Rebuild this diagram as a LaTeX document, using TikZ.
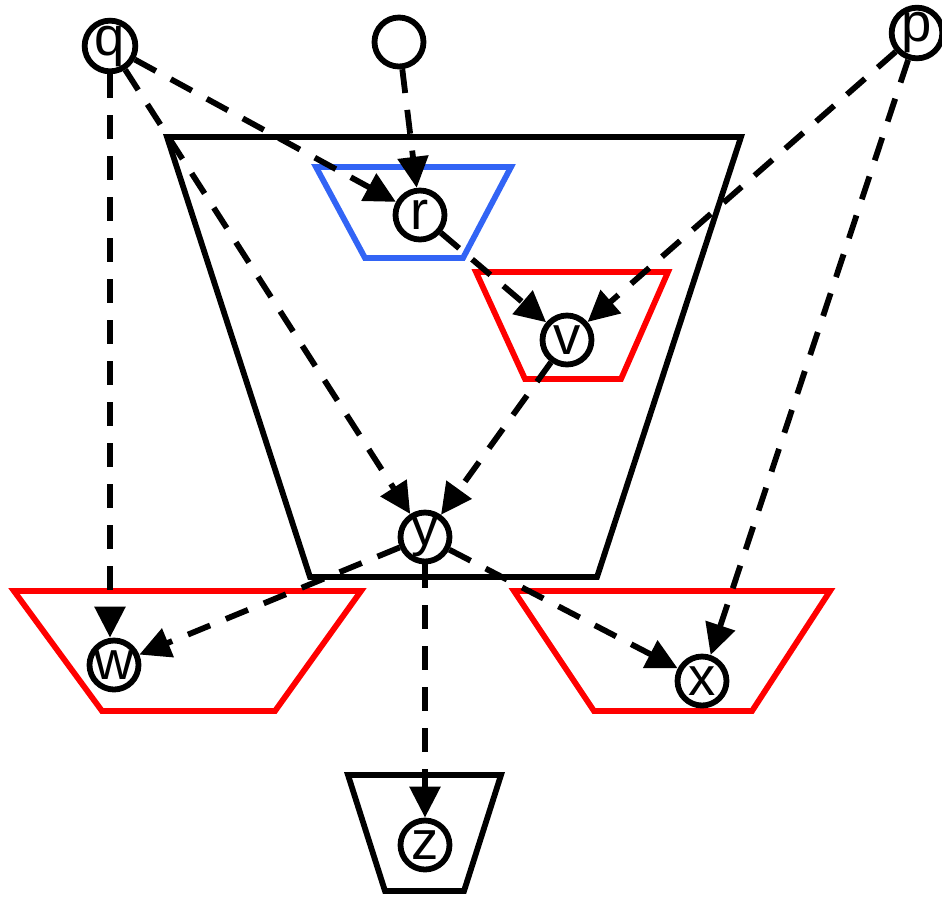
\documentclass[tikz,border=0pt]{standalone}
\usepackage{fontspec}
\setmainfont{Liberation Sans}
\usepackage{tikz}
\usetikzlibrary{arrows.meta,positioning}
\definecolor{myred}{RGB}{255,0,0}
\definecolor{myblue}{RGB}{50,100,245}

\begin{document}
\begin{tikzpicture}[x=0.02cm,y=-0.02cm,
  var/.style={circle, draw, line width=3.3pt, fill=white,
              minimum size=0.98cm, inner sep=0pt,
              font=\fontsize{31}{31}\selectfont},
  box/.style={line width=3.3pt, line join=miter},
  arr/.style={-{Triangle[length=0.62cm,width=0.6cm]}, line width=3.3pt,
              dash pattern=on 0.48cm off 0.34cm}
]
  \useasboundingbox (0,0) rectangle (942,897);

  % trapezia
  \draw[box] (167,137) -- (741,137) -- (597,577) -- (310,577) -- cycle;
  \draw[box, myblue] (316,167) -- (511,167) -- (463,258) -- (365,258) -- cycle;
  \draw[box, myred] (476,272) -- (668,272) -- (621,379) -- (525,379) -- cycle;
  \draw[box, myred] (14,591) -- (361,591) -- (275,711) -- (102,711) -- cycle;
  \draw[box, myred] (514,591) -- (830,591) -- (752,711) -- (594,711) -- cycle;
  \draw[box] (348,775) -- (501,775) -- (464,891) -- (385,891) -- cycle;

  % variables
  \node[var](q) at (110,46) {q};
  \node[var](t) at (399,42) {};
  \node[var](p) at (917,33) {p};
  \node[var](r) at (420,215) {r};
  \node[var](v) at (567,340) {v};
  \node[var](y) at (425,537) {y};
  \node[var](w) at (114,665) {w};
  \node[var](x) at (702,681) {x};
  \node[var](z) at (425,845) {z};

  \draw[arr](q.south)--(q.south |- w.north);
  \draw[arr](q)--(r);
  \draw[arr](q)--(y);
  \draw[arr](t)--(r);
  \draw[arr](p)--(v);
  \draw[arr](p)--(x);
  \draw[arr](r)--(v);
  \draw[arr](v)--(y);
  \draw[arr](y)--(w);
  \draw[arr](y)--(x);
  \draw[arr](y)--(z);
\end{tikzpicture}
\end{document}
